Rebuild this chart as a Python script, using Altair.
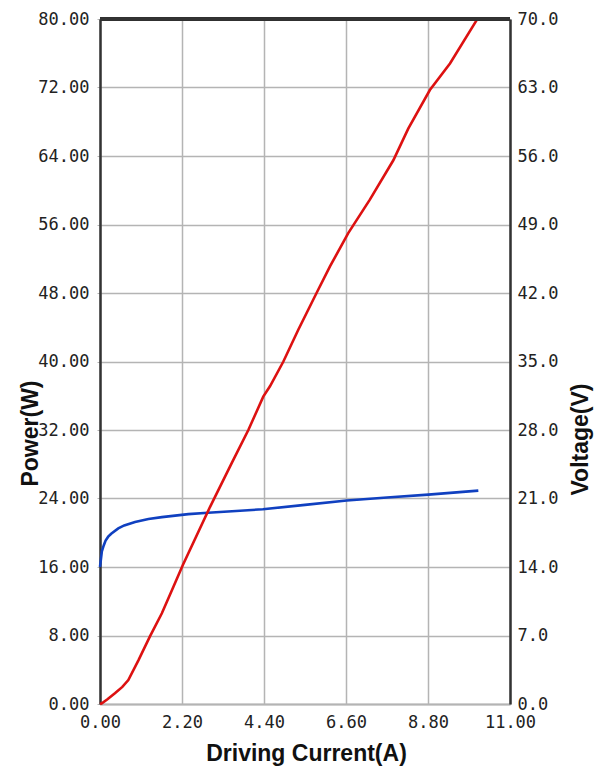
import altair as alt
import pandas as pd

# Power (W) vs driving current (A) -- red curve
current_p = [0.0, 0.05, 0.2, 0.4, 0.6, 0.76, 1.03, 1.34, 1.66, 1.97, 2.22, 2.95, 3.53, 3.98,
             4.38, 4.56, 4.92, 5.32, 5.81, 6.17, 6.66, 7.24, 7.87, 8.27, 8.85, 9.39, 10.11]
power_w = [0.0, 0.08, 0.55, 1.25, 2.0, 2.8, 5.1, 7.9, 10.6, 13.7, 16.2, 23.0, 28.1, 32.0,
           35.9, 37.1, 40.0, 43.7, 48.0, 51.1, 55.0, 58.9, 63.5, 67.2, 71.7, 74.8, 79.9]

# Voltage (V) vs driving current (A) -- blue curve
current_v = [0.0, 0.05, 0.1, 0.15, 0.22, 0.3, 0.49, 0.65, 0.94, 1.3, 1.66, 2.37, 2.9,
             4.37, 5.5, 6.62, 7.7, 8.81, 10.15]
voltage_v = [14.0, 15.6, 16.2, 16.7, 17.1, 17.4, 17.95, 18.25, 18.6, 18.9, 19.1, 19.4, 19.55,
             19.9, 20.35, 20.8, 21.1, 21.4, 21.8]

x_ticks = [0.0, 2.2, 4.4, 6.6, 8.8, 11.0]
p_ticks = [0, 8, 16, 24, 32, 40, 48, 56, 64, 72, 80]
v_ticks = [0, 7, 14, 21, 28, 35, 42, 49, 56, 63, 70]

df_p = pd.DataFrame({"current": current_p, "power": power_w})
df_v = pd.DataFrame({"current": current_v, "voltage": voltage_v})

LABEL_FONT = "DejaVu Sans Mono"
TITLE_FONT = "Liberation Sans"
GRID = "#b4b4b4"
DARK = "#333333"

x_enc = alt.X(
    "current:Q",
    scale=alt.Scale(domain=[0, 11], nice=False, zero=False),
    axis=alt.Axis(
        values=x_ticks, format=".2f", title="Driving Current(A)",
        grid=True, gridColor=GRID, gridWidth=1.5,
        domainColor=GRID, domainWidth=2, ticks=False,
        labelFont=LABEL_FONT, labelFontSize=17, labelColor="#222",
        labelPadding=10, labelFlush=False,
        titleFont=TITLE_FONT, titleFontSize=23, titleFontWeight="bold", titleColor="#111",
        titleX=206, titleY=49, titleAlign="center", titleBaseline="middle",
    ),
)

power_line = alt.Chart(df_p).mark_line(color="#dd1111", strokeWidth=2.6).encode(
    x=x_enc,
    y=alt.Y(
        "power:Q",
        scale=alt.Scale(domain=[0, 80], nice=False),
        axis=alt.Axis(
            values=p_ticks, format=".2f", title="Power(W)", orient="left",
            grid=True, gridColor=GRID, gridWidth=1.5,
            domainColor=DARK, domainWidth=2.5,
            ticks=True, tickSize=3, tickColor=GRID,
            labelFont=LABEL_FONT, labelFontSize=17, labelColor="#222", labelPadding=8,
            titleFont=TITLE_FONT, titleFontSize=23, titleFontWeight="bold", titleColor="#111",
            titleAngle=-90, titleX=-70, titleY=414, titleAlign="center", titleBaseline="middle",
        ),
    ),
)

voltage_line = alt.Chart(df_v).mark_line(color="#1040c0", strokeWidth=2.6).encode(
    x=alt.X("current:Q"),
    y=alt.Y(
        "voltage:Q",
        scale=alt.Scale(domain=[0, 70], nice=False),
        axis=alt.Axis(
            values=v_ticks, format=".1f", title="Voltage(V)", orient="right",
            grid=False, domainColor=DARK, domainWidth=2.5, ticks=False,
            labelFont=LABEL_FONT, labelFontSize=17, labelColor="#222", labelPadding=7,
            titleFont=TITLE_FONT, titleFontSize=23, titleFontWeight="bold", titleColor="#111",
            titleAngle=-90, titleX=70, titleY=420, titleAlign="center", titleBaseline="middle",
        ),
    ),
)

top_border = alt.Chart(df_p).mark_rule(color=DARK, strokeWidth=2.5).encode(
    x=alt.value(0), x2=alt.value(410), y=alt.value(0)
)

chart = (
    alt.layer(voltage_line, power_line, top_border)
    .resolve_scale(y="independent")
    .properties(
        width=410, height=685,
        autosize=alt.AutoSizeParams(type="none"),
        padding={"left": 100, "top": 19, "right": 96, "bottom": 77},
        background="white",
    )
    .configure_view(stroke=None)
)

chart.save("out.html", embed_options={"renderer": "svg", "actions": False})
